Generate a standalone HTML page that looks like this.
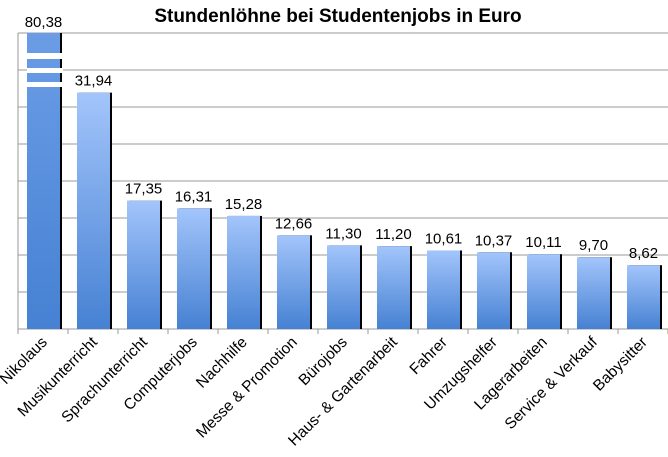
<!DOCTYPE html>
<html><head><meta charset="utf-8"><style>
html,body{margin:0;padding:0;background:#fff}
svg{display:block;font-family:"Liberation Sans",sans-serif}
</style></head><body>
<svg id="c" width="668" height="457" viewBox="0 0 668 457" xmlns="http://www.w3.org/2000/svg">
<defs><linearGradient id="g" x1="0" y1="0" x2="0" y2="1"><stop offset="0" stop-color="#a3c5fb"/><stop offset="1" stop-color="#4681d3"/></linearGradient>
<linearGradient id="g2" x1="0" y1="0" x2="0" y2="1"><stop offset="0" stop-color="#6b9de6"/><stop offset="1" stop-color="#4681d3"/></linearGradient></defs>
<text x="338" y="22" text-anchor="middle" font-size="19" font-weight="bold" fill="#000">Stundenlöhne bei Studentenjobs in Euro</text>
</svg>
<script>
var s=document.getElementById('c'),ns='http://www.w3.org/2000/svg';
function el(t,a,txt){var e=document.createElementNS(ns,t);for(var k in a)e.setAttribute(k,a[k]);if(txt)e.textContent=txt;s.appendChild(e);return e;}
for(var i=0;i<9;i++){var y=33+37*i;el('line',{x1:18,x2:668,y1:y,y2:y,stroke:'#999','stroke-width':1});}
el('line',{x1:18,x2:18,y1:33,y2:329,stroke:'#999'});
for(var i=0;i<=13;i++){var x=18+50*i;el('line',{x1:x,x2:x,y1:329,y2:334,stroke:'#999'});}
var d=[["Nikolaus",80.38],["Musikunterricht",31.94],["Sprachunterricht",17.35],["Computerjobs",16.31],["Nachhilfe",15.28],["Messe & Promotion",12.66],["Bürojobs",11.30],["Haus- & Gartenarbeit",11.20],["Fahrer",10.61],["Umzugshelfer",10.37],["Lagerarbeiten",10.11],["Service & Verkauf",9.70],["Babysitter",8.62]];
d.forEach(function(r,i){var x0=18+50*i,bx=x0+9,w=33;var v=Math.min(r[1],40);var top=329-v*7.4;
el('rect',{x:bx+2,y:top,width:w,height:329-top,fill:'#000'});
el('rect',{x:bx,y:top,width:w,height:329-top,fill:i==0?'url(#g2)':'url(#g)'});
if(i==0){el('rect',{x:bx,y:53,width:w+3,height:6,fill:'#fff'});el('rect',{x:bx,y:68,width:w+3,height:5,fill:'#fff'});el('rect',{x:bx,y:82,width:w+3,height:5,fill:'#fff'});}
el('text',{x:bx+w/2,y:(i==0?27:top-7),'text-anchor':'middle','font-size':'15',fill:'#000'},r[1].toFixed(2).replace('.',','));
var cx=x0+25+5,cy=343;el('text',{x:cx,y:cy,'text-anchor':'end','font-size':'15.5',fill:'#000',transform:'rotate(-45 '+cx+' '+cy+')'},r[0]);
});
</script>
</body></html>
